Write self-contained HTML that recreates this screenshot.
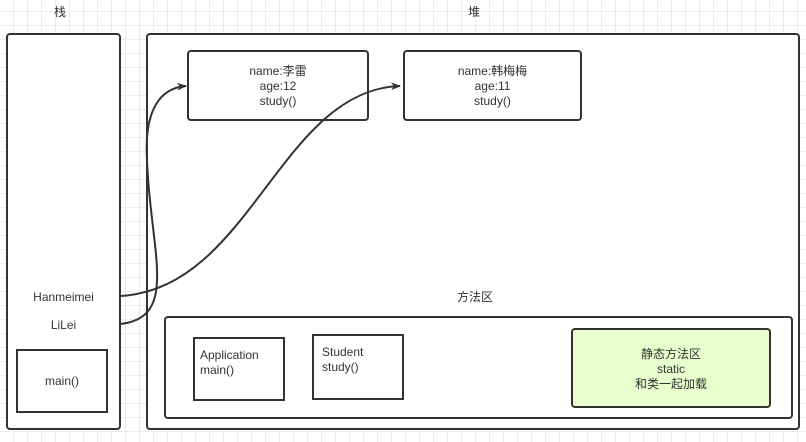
<!DOCTYPE html>
<html><head><meta charset="utf-8"><style>
body{margin:0;width:806px;height:442px;overflow:hidden;background:#fff;
background-image:linear-gradient(#ececec 1px,transparent 1px),linear-gradient(90deg,#ececec 1px,transparent 1px);background-size:14px 14px;background-position:-1px -3px;
font-family:"Liberation Sans","Noto Sans CJK SC",sans-serif;font-size:12px;color:#333}
.b{position:absolute;border:2px solid #333;box-sizing:border-box;background:#fff}
.r{border-radius:4px}
.t{position:absolute;text-align:center;line-height:15px}
</style></head><body>
<div class="t" style="left:40px;top:5px;width:40px">栈</div>
<div class="t" style="left:454px;top:5px;width:40px">堆</div>
<div class="b r" style="left:6px;top:33px;width:115px;height:397px"></div>
<div class="b r" style="left:146px;top:33px;width:654px;height:397px"></div>
<div class="b r" style="left:187px;top:50px;width:182px;height:71px"></div>
<div class="t" style="left:187px;top:64px;width:182px">name:李雷<br>age:12<br>study()</div>
<div class="b r" style="left:403px;top:50px;width:179px;height:71px"></div>
<div class="t" style="left:403px;top:64px;width:179px">name:韩梅梅<br>age:11<br>study()</div>
<div class="t" style="left:10px;top:290px;width:107px">Hanmeimei</div>
<div class="t" style="left:10px;top:318px;width:107px">LiLei</div>
<div class="b" style="left:16px;top:349px;width:92px;height:64px"></div>
<div class="t" style="left:16px;top:374px;width:92px">main()</div>
<div class="t" style="left:440px;top:290px;width:70px">方法区</div>
<div class="b r" style="left:164px;top:316px;width:629px;height:103px"></div>
<div class="b" style="left:193px;top:337px;width:92px;height:64px"></div>
<div class="t" style="left:200px;top:348px;text-align:left">Application<br>main()</div>
<div class="b" style="left:312px;top:334px;width:92px;height:66px"></div>
<div class="t" style="left:322px;top:345px;text-align:left">Student<br>study()</div>
<div class="b r" style="left:571px;top:328px;width:200px;height:80px;background:#e6ffcc"></div>
<div class="t" style="left:571px;top:347px;width:200px">静态方法区<br>static<br>和类一起加载</div>
<svg width="806" height="442" style="position:absolute;left:0;top:0">
<defs><marker id="a" markerWidth="10" markerHeight="10" refX="9" refY="5" orient="auto" markerUnits="userSpaceOnUse"><path d="M0,1 L10,5 L0,9 L3,5z" fill="#333"/></marker></defs>
<path d="M120,296 C250,290 280,90 400,86" fill="none" stroke="#333" stroke-width="2" marker-end="url(#a)"/>
<path d="M120,324 C180,318 150,250 147,160 C144,110 160,88 186,86" fill="none" stroke="#333" stroke-width="2" marker-end="url(#a)"/>
</svg>
</body></html>
